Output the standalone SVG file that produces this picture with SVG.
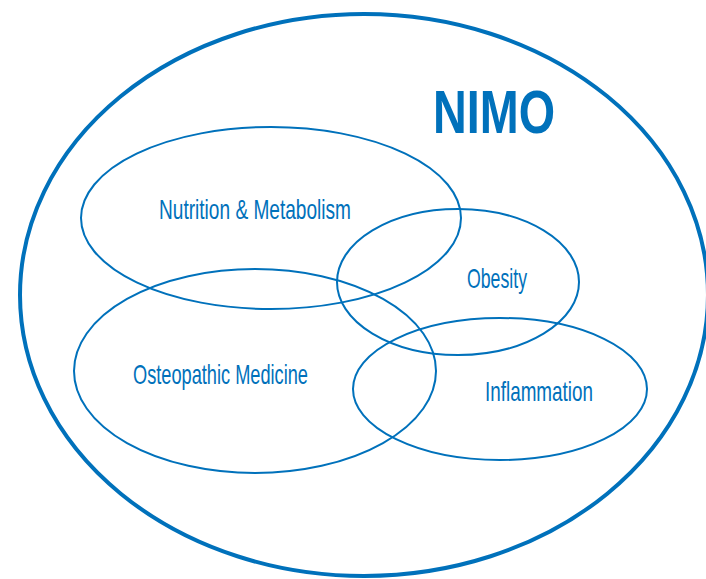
<svg xmlns="http://www.w3.org/2000/svg" width="706" height="579" viewBox="0 0 706 579">
<style>
.big{fill:none;stroke:#0071BB;stroke-width:4}
.e{fill:none;stroke:#0071BB;stroke-width:2}
.t{font-family:"Liberation Sans",Arial,sans-serif;font-size:28px;fill:#0071BB}
.title{font-family:"Liberation Sans",Arial,sans-serif;font-size:62px;font-weight:bold;fill:#0071BB}
</style>
<rect width="706" height="579" fill="#fff"/>
<g id="nimo">
<ellipse class="big" cx="364" cy="295" rx="344" ry="281"/>
<text class="title" x="433" y="133" textLength="122" lengthAdjust="spacingAndGlyphs">NIMO</text>
</g>
<g id="nutrition">
<ellipse class="e" cx="271" cy="218" rx="190" ry="91"/>
<text class="t" x="159" y="219" textLength="192" lengthAdjust="spacingAndGlyphs">Nutrition &amp; Metabolism</text>
</g>
<g id="obesity">
<ellipse class="e" cx="458" cy="282" rx="121" ry="73"/>
<text class="t" x="467" y="288" textLength="60" lengthAdjust="spacingAndGlyphs">Obesity</text>
</g>
<g id="osteopathic">
<ellipse class="e" cx="255" cy="371" rx="181" ry="102"/>
<text class="t" x="133" y="384" textLength="175" lengthAdjust="spacingAndGlyphs">Osteopathic Medicine</text>
</g>
<g id="inflammation">
<ellipse class="e" cx="500" cy="389" rx="147" ry="71"/>
<text class="t" x="485" y="401" textLength="108" lengthAdjust="spacingAndGlyphs">Inflammation</text>
</g>
<g id="connectors"></g>
</svg>
